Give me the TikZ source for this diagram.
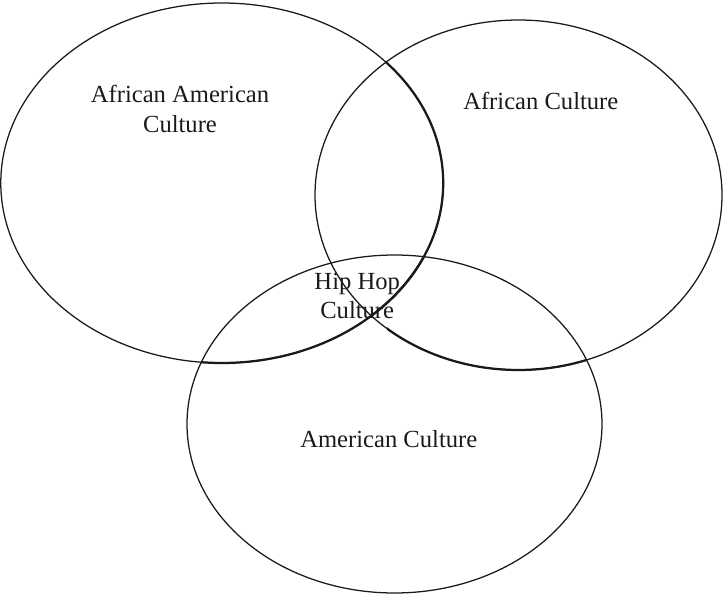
\documentclass[tikz,border=0pt]{standalone}
\usepackage{fontspec}
\setmainfont{Liberation Serif}
\usetikzlibrary{positioning}
\definecolor{cink}{HTML}{1A1A1A}
\def\afamset{(5.55,-4.575) ellipse [x radius=5.53cm, y radius=4.5cm]}
\def\africaset{(12.9625,-4.875) ellipse [x radius=5.0875cm, y radius=4.375cm]}
\def\ameriset{(9.8625,-10.6) ellipse [x radius=5.1875cm, y radius=4.225cm]}
\tikzset{
  every picture/.style={line width=0.9pt},
  ring/.style={draw=cink, line width=0.9pt},
  seam/.style={draw=cink, line width=1.6pt},
  setname/.style={font=\fontsize{17.5}{21.3}\selectfont, text=cink, align=center, inner sep=0pt},
}

\begin{document}
\begin{tikzpicture}
  \useasboundingbox (0,0) rectangle (18.1,-14.9);
  % the three sets
  \draw[ring] \afamset;
  \draw[ring] \africaset;
  \draw[ring] \ameriset;
  % heavier seams round the middle
  \begin{scope}
    \clip \africaset;
    \draw[seam] \afamset;
  \end{scope}
  \begin{scope}
    \clip \ameriset;
    \draw[seam] \afamset;
  \end{scope}
  \begin{scope}
    \clip \ameriset;
    \clip (9.675,0) rectangle (18.1,-14.9);
    \draw[seam] \africaset;
  \end{scope}
  \node[setname] (afam) at (4.5, -2.73) {African American\\Culture};
  \node[setname] (africa) at (13.52, -2.52) {African Culture};
  \node[setname] (hiphop) at (8.93, -7.4) {Hip Hop\\Culture};
  \node[setname] (ameri) at (9.72, -10.97) {American Culture};
\end{tikzpicture}
\end{document}
